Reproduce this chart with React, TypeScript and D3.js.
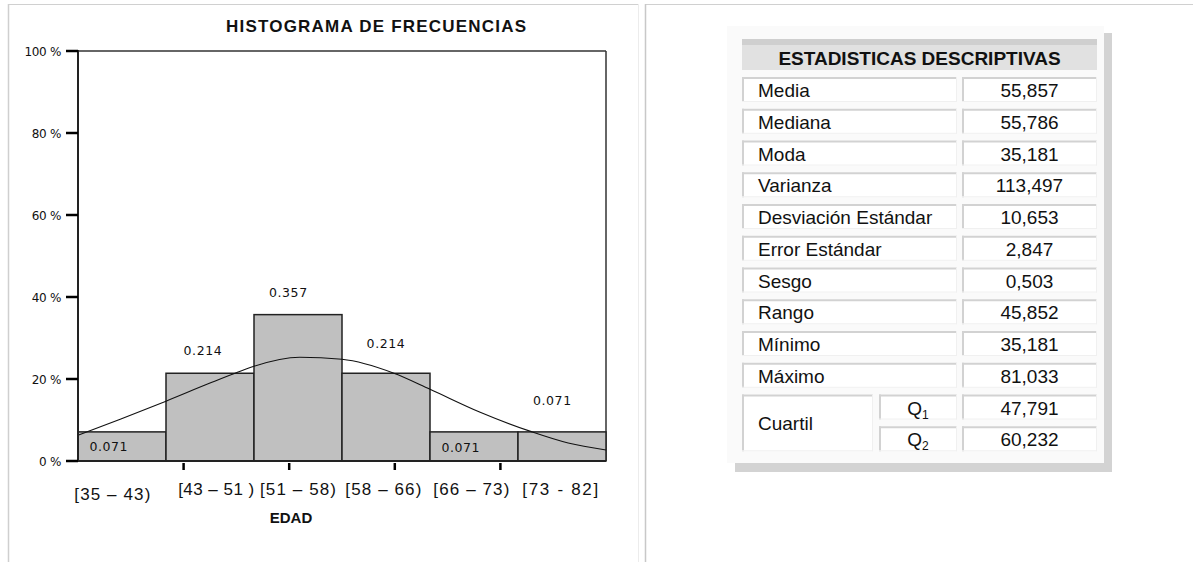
import React from "react";
import * as d3 from "d3";

// ---------- data ----------
const binLabels = ["[35 – 43)", "[43 – 51 )", "[51 – 58)", "[58 – 66)", "[66 – 73)", "[73 - 82]"];
const binFreq = [0.071, 0.214, 0.357, 0.214, 0.071, 0.071];
const binFreqText = ["0.071", "0.214", "0.357", "0.214", "0.071", "0.071"];
// anchor of each value label, in (bin units, fraction) data coordinates
const labelAnchorX = [0.35, 1.42, 2.39, 3.5, 4.35, 5.39];
const labelAnchorY = [0.024, 0.258, 0.399, 0.275, 0.022, 0.136];
// x category label centres (bin units) and row (0 = upper, 1 = lower)
const xLabelPos = [0.39, 1.57, 2.5, 3.47, 4.47, 5.48];
const xLabelRow = [1, 0, 0, 0, 0, 0];
const xTickPos = [1.2, 2.4, 3.6, 4.8];
const yTicks = [0, 0.2, 0.4, 0.6, 0.8, 1.0];
const yTickLabels = ["0 %", "20 %", "40 %", "60 %", "80 %", "100 %"];
// normal curve: x in bin units, y as fraction
const curveX = [0, 0.48, 1.0, 1.5, 1.82, 2.0, 2.52, 3.0, 3.59, 4.0, 4.57, 5.16, 5.57, 6.0];
const curveY = [0.063, 0.102, 0.146, 0.19, 0.217, 0.231, 0.253, 0.248, 0.214, 0.175, 0.119, 0.071, 0.044, 0.027];

const statLabels = [
  "Media", "Mediana", "Moda", "Varianza", "Desviación Estándar",
  "Error Estándar", "Sesgo", "Rango", "Mínimo", "Máximo",
];
const statValues = [
  "55,857", "55,786", "35,181", "113,497", "10,653",
  "2,847", "0,503", "45,852", "35,181", "81,033",
];
const quartileName = "Cuartil";
const quartileSubs = ["1", "2"];
const quartileValues = ["47,791", "60,232"];

const W = 1193;
const H = 562;

function Cell({ x, y, w, h }: { x: number; y: number; w: number; h: number }) {
  return (
    <g>
      <rect x={x} y={y} width={w} height={h} fill="#ffffff" />
      <line x1={x} x2={x + w} y1={y + 1} y2={y + 1} stroke="#d2d2d2" strokeWidth={2} />
      <line x1={x + 1} x2={x + 1} y1={y} y2={y + h} stroke="#d2d2d2" strokeWidth={2} />
      <line x1={x} x2={x + w} y1={y + h - 0.5} y2={y + h - 0.5} stroke="#f0f0f0" strokeWidth={1} />
      <line x1={x + w - 0.5} x2={x + w - 0.5} y1={y} y2={y + h} stroke="#f0f0f0" strokeWidth={1} />
    </g>
  );
}

export default function App() {
  const plotL = 78, plotR = 606, plotT = 51, plotB = 461;
  const x = d3.scaleLinear().domain([0, 6]).range([plotL, plotR]);
  const y = d3.scaleLinear().domain([0, 1]).range([plotB, plotT]);
  const pts: [number, number][] = curveX.map((v, i) => [v, curveY[i]]);
  const line = d3.line<[number, number]>()
    .x((d) => x(d[0]))
    .y((d) => y(d[1]))
    .curve(d3.curveMonotoneX);

  // table geometry
  const rowY = d3.scaleLinear().domain([0, 1]).range([77, 108.75]);
  const rowH = 25;
  const c1 = 742, c1r = 957, c2 = 962, c2r = 1097;
  const cq = 873, cqq = 879;
  const labelFont = "'Liberation Sans', Arial, Helvetica, sans-serif";
  const chartFont = "'DejaVu Sans', Verdana, sans-serif";

  return (
    <svg width={W} height={H} style={{ position: "absolute", left: 0, top: 0, background: "#fff" }}>
      {/* page frame lines */}
      <line x1={8} x2={638} y1={4.5} y2={4.5} stroke="#d0d0d0" strokeWidth={1} />
      <line x1={645} x2={W} y1={4.5} y2={4.5} stroke="#d0d0d0" strokeWidth={1} />
      <line x1={8.5} x2={8.5} y1={4} y2={H} stroke="#cfcfcf" strokeWidth={1.5} />
      <line x1={638.5} x2={638.5} y1={4} y2={H} stroke="#ececec" strokeWidth={1} />
      <line x1={645.5} x2={645.5} y1={4} y2={H} stroke="#c8c8c8" strokeWidth={1.5} />

      {/* ---------- histogram ---------- */}
      <text x={376} y={32} textAnchor="middle" fontFamily={labelFont} fontWeight="bold" fontSize={17}
        textLength={300} lengthAdjust="spacing" fill="#111">HISTOGRAMA DE FRECUENCIAS</text>

      {/* plot frame */}
      <line x1={plotL} x2={plotR} y1={plotT} y2={plotT} stroke="#333" strokeWidth={1.5} />
      <line x1={plotR} x2={plotR} y1={plotT} y2={plotB} stroke="#333" strokeWidth={1.5} />

      {/* bars */}
      {binFreq.map((v, i) => (
        <rect key={i} x={x(i)} y={y(v)} width={x(i + 1) - x(i)} height={y(0) - y(v)}
          fill="#c0c0c0" stroke="#222" strokeWidth={1.5} />
      ))}

      {/* normal curve */}
      <path d={line(pts) || ""} fill="none" stroke="#111" strokeWidth={1.1} />

      {/* axes */}
      <line x1={plotL} x2={plotL} y1={plotT - 1} y2={plotB} stroke="#222" strokeWidth={2} />
      <line x1={66} x2={plotR} y1={plotB} y2={plotB} stroke="#222" strokeWidth={2} />
      {yTicks.map((t, i) => (
        <g key={i}>
          <line x1={66} x2={plotL} y1={y(t)} y2={y(t)} stroke="#000" strokeWidth={2.5} />
          <text x={61} y={y(t) + 4.5} textAnchor="end" fontFamily={chartFont} fontSize={12}
            letterSpacing={-0.3} fill="#111">
            {yTickLabels[i]}
          </text>
        </g>
      ))}
      {xTickPos.map((t, i) => (
        <line key={i} x1={x(t)} x2={x(t)} y1={plotB + 2} y2={plotB + 9} stroke="#000" strokeWidth={2.5} />
      ))}

      {/* value labels */}
      {binFreqText.map((s, i) => (
        <text key={i} x={x(labelAnchorX[i])} y={y(labelAnchorY[i])} textAnchor="middle"
          fontFamily={chartFont} fontSize={12.5} letterSpacing={0.6} fill="#111">{s}</text>
      ))}

      {/* category labels */}
      {binLabels.map((s, i) => (
        <text key={i} x={x(xLabelPos[i])} y={495 + xLabelRow[i] * 5} textAnchor="middle"
          fontFamily={labelFont} fontSize={17} textLength={76} lengthAdjust="spacing" fill="#111">{s}</text>
      ))}
      <text x={291} y={523} textAnchor="middle" fontFamily={labelFont} fontWeight="bold" fontSize={15}
        fill="#111">EDAD</text>

      {/* ---------- statistics table ---------- */}
      <rect x={735} y={33} width={377} height={439} fill="#d3d3d3" />
      <rect x={727} y={26} width={377} height={437} fill="#fafafa" />
      <rect x={c1} y={39} width={c2r - c1} height={31} fill="#e1e1e1" />
      <rect x={c1} y={39} width={c2r - c1} height={6} fill="#cfcfcf" />
      <text x={(c1 + c2r) / 2} y={65} textAnchor="middle" fontFamily={labelFont} fontWeight="bold"
        fontSize={19} fill="#111">ESTADISTICAS DESCRIPTIVAS</text>

      {statLabels.map((s, i) => (
        <g key={i}>
          <Cell x={c1} y={rowY(i)} w={c1r - c1} h={rowH} />
          <Cell x={c2} y={rowY(i)} w={c2r - c2} h={rowH} />
          <text x={c1 + 16} y={rowY(i) + 20} fontFamily={labelFont} fontSize={19} fill="#111">{s}</text>
          <text x={(c2 + c2r) / 2} y={rowY(i) + 20} textAnchor="middle" fontFamily={labelFont}
            fontSize={19} fill="#111">{statValues[i]}</text>
        </g>
      ))}

      {/* quartiles */}
      <Cell x={c1} y={rowY(10)} w={cq - c1} h={rowY(11) + rowH - rowY(10)} />
      <text x={c1 + 16} y={(rowY(10) + rowY(11) + rowH) / 2 + 7} fontFamily={labelFont} fontSize={19}
        fill="#111">{quartileName}</text>
      {quartileValues.map((v, k) => (
        <g key={k}>
          <Cell x={cqq} y={rowY(10 + k)} w={c1r - cqq} h={rowH} />
          <Cell x={c2} y={rowY(10 + k)} w={c2r - c2} h={rowH} />
          <text x={(cqq + c1r) / 2} y={rowY(10 + k) + 20} textAnchor="middle" fontFamily={labelFont}
            fontSize={19} fill="#111">
            Q<tspan fontSize={12} dy={4}>{quartileSubs[k]}</tspan>
          </text>
          <text x={(c2 + c2r) / 2} y={rowY(10 + k) + 20} textAnchor="middle" fontFamily={labelFont}
            fontSize={19} fill="#111">{v}</text>
        </g>
      ))}
    </svg>
  );
}
